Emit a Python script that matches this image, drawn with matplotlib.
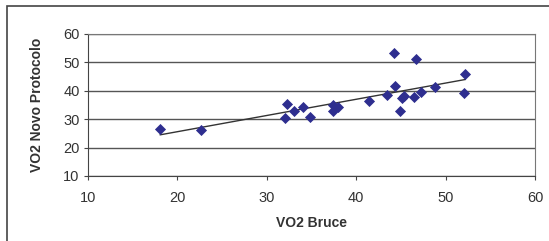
import numpy as np
import matplotlib.pyplot as plt
from matplotlib.patches import Rectangle

plt.rcParams['font.family'] = ['Liberation Sans', 'DejaVu Sans']

# VO2 values
vo2_bruce = [18.1, 22.7, 32.1, 32.3, 33.0, 34.1, 34.8, 37.4, 37.4, 38.0,
             41.4, 43.4, 44.2, 44.4, 44.9, 45.1, 45.3, 46.5, 46.7, 47.3,
             48.8, 52.1, 52.2]
vo2_novo = [26.5, 26.2, 30.3, 35.4, 32.9, 34.4, 30.7, 32.9, 35.0, 34.4,
            36.4, 38.4, 53.2, 41.8, 32.9, 37.6, 38.3, 37.9, 51.1, 39.6,
            41.2, 39.3, 45.8]

fig = plt.figure(figsize=(5.49, 2.41), dpi=100)
ax = fig.add_axes([0.160, 0.270, 0.8145, 0.589])

ax.scatter(vo2_bruce, vo2_novo, marker='D', s=32, color='#2e2e8f', zorder=3, linewidths=0)

# linear trend line
k, b = np.polyfit(vo2_bruce, vo2_novo, 1)
xs = np.array([min(vo2_bruce), max(vo2_bruce)])
ax.plot(xs, k * xs + b, color='#333333', lw=1, zorder=2)

ax.set_xlim(10, 60)
ax.set_ylim(10, 60)
ax.set_xticks(range(10, 61, 10))
ax.set_yticks(range(10, 61, 10))
ax.yaxis.grid(True, color='#555555', lw=1)
ax.set_axisbelow(True)
for s in ax.spines.values():
    s.set_color('#777777')
ax.spines['left'].set_color('#444444')
ax.spines['bottom'].set_color('#444444')
ax.tick_params(length=3, color='#444444', labelsize=10.5, labelcolor='#333333', pad=3)
ax.tick_params(axis='x', pad=8)

ax.set_xlabel('VO2 Bruce', fontsize=10, fontweight='bold', color='#333333', labelpad=8)
ax.set_ylabel('VO2 Novo Protocolo', fontsize=10, fontweight='bold', color='#333333', labelpad=14)

# outer frame
fig.patches.append(Rectangle((7 / 549, -0.05), 1.0, 1 - 6 / 241 + 0.05,
                             transform=fig.transFigure, fill=False,
                             edgecolor='#444444', lw=1.2))

fig.savefig('out.png', dpi=100)
